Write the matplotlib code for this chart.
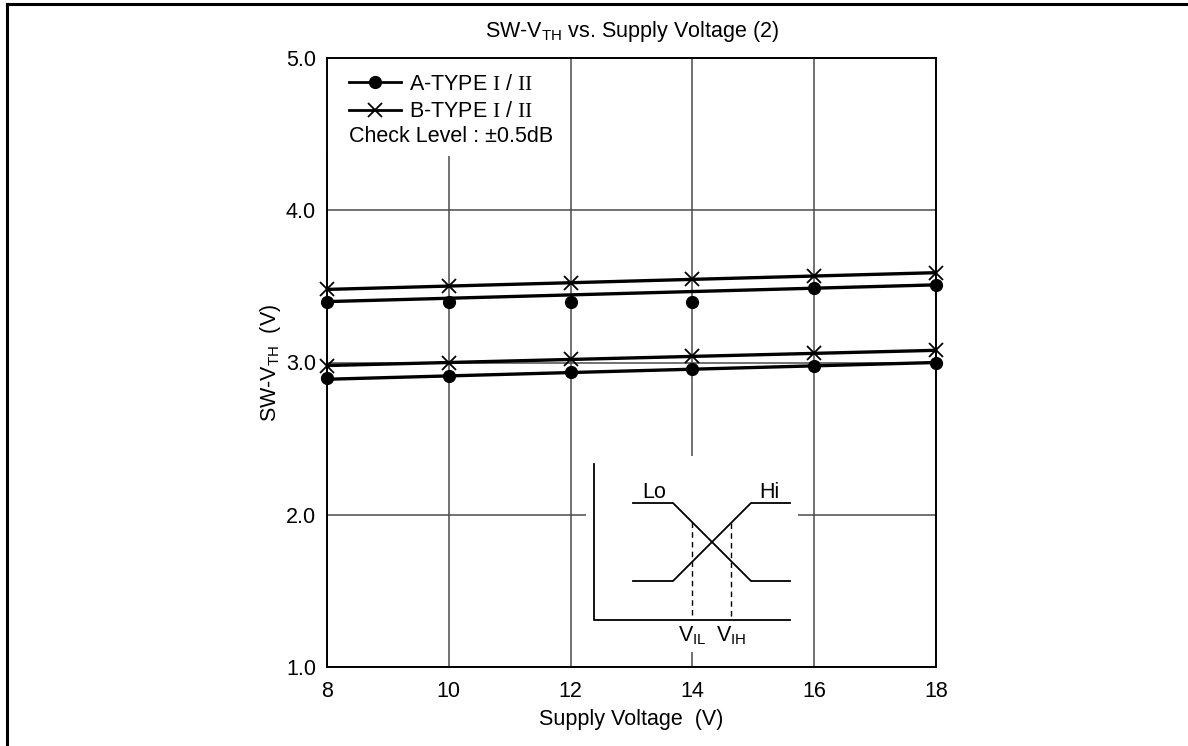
import matplotlib
matplotlib.use("Agg")
import matplotlib.pyplot as plt
from matplotlib.patches import Rectangle
from matplotlib.lines import Line2D

# data
volts = [8, 10, 12, 14, 16, 18]
a_hi = [3.40, 3.40, 3.40, 3.40, 3.49, 3.51]
b_hi = [3.48, 3.50, 3.52, 3.55, 3.57, 3.59]
a_lo = [2.90, 2.91, 2.94, 2.96, 2.98, 3.00]
b_lo = [2.98, 3.00, 3.02, 3.04, 3.06, 3.08]
# straight fit lines (value at 8 V and 18 V)
fit_x = [8, 18]
a_hi_fit = [3.40, 3.51]
b_hi_fit = [3.48, 3.59]
a_lo_fit = [2.89, 3.00]
b_lo_fit = [2.98, 3.08]

x_ticks = [8, 10, 12, 14, 16, 18]
y_ticks = [1.0, 2.0, 3.0, 4.0, 5.0]

# schematic inset (pixel space of the inset box)
lo_x = [633, 673, 751, 790]
lo_y = [503, 503, 581, 581]
hi_x = [633, 673, 751, 790]
hi_y = [581, 581, 503, 503]
vil_x, vih_x = 692, 731

plt.rcParams["font.family"] = ["Liberation Sans", "DejaVu Sans"]
plt.rcParams["mathtext.fontset"] = "custom"
plt.rcParams["mathtext.rm"] = "Liberation Serif"
plt.rcParams["mathtext.sf"] = "Liberation Sans"
plt.rcParams["mathtext.it"] = "Liberation Sans:italic"

W, H = 1188, 746
fig = plt.figure(figsize=(W / 100, H / 100), dpi=100)

# page border (top and left only visible)
fig.add_artist(Line2D([6.5 / W, 6.5 / W], [0, 1 - 3.5 / H], color="black", lw=2.2, transform=fig.transFigure))
fig.add_artist(Line2D([6.5 / W, 1], [1 - 3.5 / H, 1 - 3.5 / H], color="black", lw=2.2, transform=fig.transFigure))

L, R, T, B = 327, 936, 58, 667
ax = fig.add_axes([L / W, 1 - B / H, (R - L) / W, (B - T) / H])
fs = 15.5

ax.set_xlim(8, 18)
ax.set_ylim(1.0, 5.0)
ax.set_xticks(x_ticks)
ax.set_xticklabels([str(v) for v in x_ticks])
ax.set_yticks(y_ticks)
ax.set_yticklabels([f"{v:.1f}" for v in y_ticks])
ax.tick_params(axis="x", length=0, labelsize=fs, pad=10)
ax.tick_params(axis="y", length=0, labelsize=fs, pad=8)
ax.grid(True, color="#4a4a4a", lw=1.1)
ax.set_axisbelow(True)
for s in ax.spines.values():
    s.set_linewidth(1.4)

ax.set_title(r"SW-V$_\mathsf{TH}$ vs. Supply Voltage (2)", fontsize=fs, pad=15)
ax.set_xlabel("Supply Voltage  (V)", fontsize=fs, labelpad=5)
ax.set_ylabel(r"SW-V$_\mathsf{TH}$  (V)", fontsize=fs, labelpad=2)

# white area behind legend
ax.add_patch(Rectangle((0, 1 - (156 - T) / (B - T)), (565 - L) / (R - L), (156 - T) / (B - T),
                       transform=ax.transAxes, facecolor="white", edgecolor="none", zorder=1))

lw = 2.4
ax.plot(fit_x, a_hi_fit, color="black", lw=lw, zorder=3)
ax.plot(fit_x, b_hi_fit, color="black", lw=lw, zorder=3)
ax.plot(fit_x, a_lo_fit, color="black", lw=lw, zorder=3)
ax.plot(fit_x, b_lo_fit, color="black", lw=lw, zorder=3)
ax.plot(volts, a_hi, "o", color="black", ms=8.5, zorder=4, clip_on=False)
ax.plot(volts, a_lo, "o", color="black", ms=8.5, zorder=4, clip_on=False)
ax.plot(volts, b_hi, "x", color="black", ms=10, mew=1.3, zorder=4, clip_on=False)
ax.plot(volts, b_lo, "x", color="black", ms=10, mew=1.3, zorder=4, clip_on=False)

h1 = Line2D([], [], color="black", lw=2, marker="o", ms=8.5)
h2 = Line2D([], [], color="black", lw=2, marker="x", ms=10, mew=1.3)
ax.legend([h1, h2], [r"A-TYPE $\mathrm{I}$ / $\mathrm{II}$", r"B-TYPE $\mathrm{I}$ / $\mathrm{II}$"],
          loc="upper left", bbox_to_anchor=((349 - L) / (R - L), (B - 74) / (B - T)),
          frameon=False, fontsize=fs, borderpad=0, borderaxespad=0, handlelength=2.4,
          handletextpad=0.4, labelspacing=0.3)
ax.text((349 - L) / (R - L), (B - 137) / (B - T), "Check Level : \u00b10.5dB", transform=ax.transAxes,
        fontsize=fs, va="center", ha="left", zorder=5)

# inset schematic
il, ir, it, ib = 586, 798, 456, 652
ins = fig.add_axes([il / W, 1 - ib / H, (ir - il) / W, (ib - it) / H])
ins.set_xlim(il, ir)
ins.set_ylim(ib, it)
ins.set_facecolor("white")
ins.set_xticks([])
ins.set_yticks([])
for s in ins.spines.values():
    s.set_visible(False)
ilw = 1.3
ins.plot([594, 594, 790], [464, 620, 620], color="black", lw=ilw)
ins.plot(lo_x, lo_y, color="black", lw=ilw)
ins.plot(hi_x, hi_y, color="black", lw=ilw)
ins.plot([vil_x, vil_x], [522, 620], color="black", lw=1, ls=(0, (4, 3)))
ins.plot([vih_x, vih_x], [523, 620], color="black", lw=1, ls=(0, (4, 3)))
ins.text(654, 498, "Lo", fontsize=fs, ha="center", va="baseline")
ins.text(769, 498, "Hi", fontsize=fs, ha="center", va="baseline")
ins.text(vil_x, 624, r"V$_\mathsf{IL}$", fontsize=fs, ha="center", va="top")
ins.text(vih_x, 624, r"V$_\mathsf{IH}$", fontsize=fs, ha="center", va="top")

fig.savefig("out.png", dpi=100)
